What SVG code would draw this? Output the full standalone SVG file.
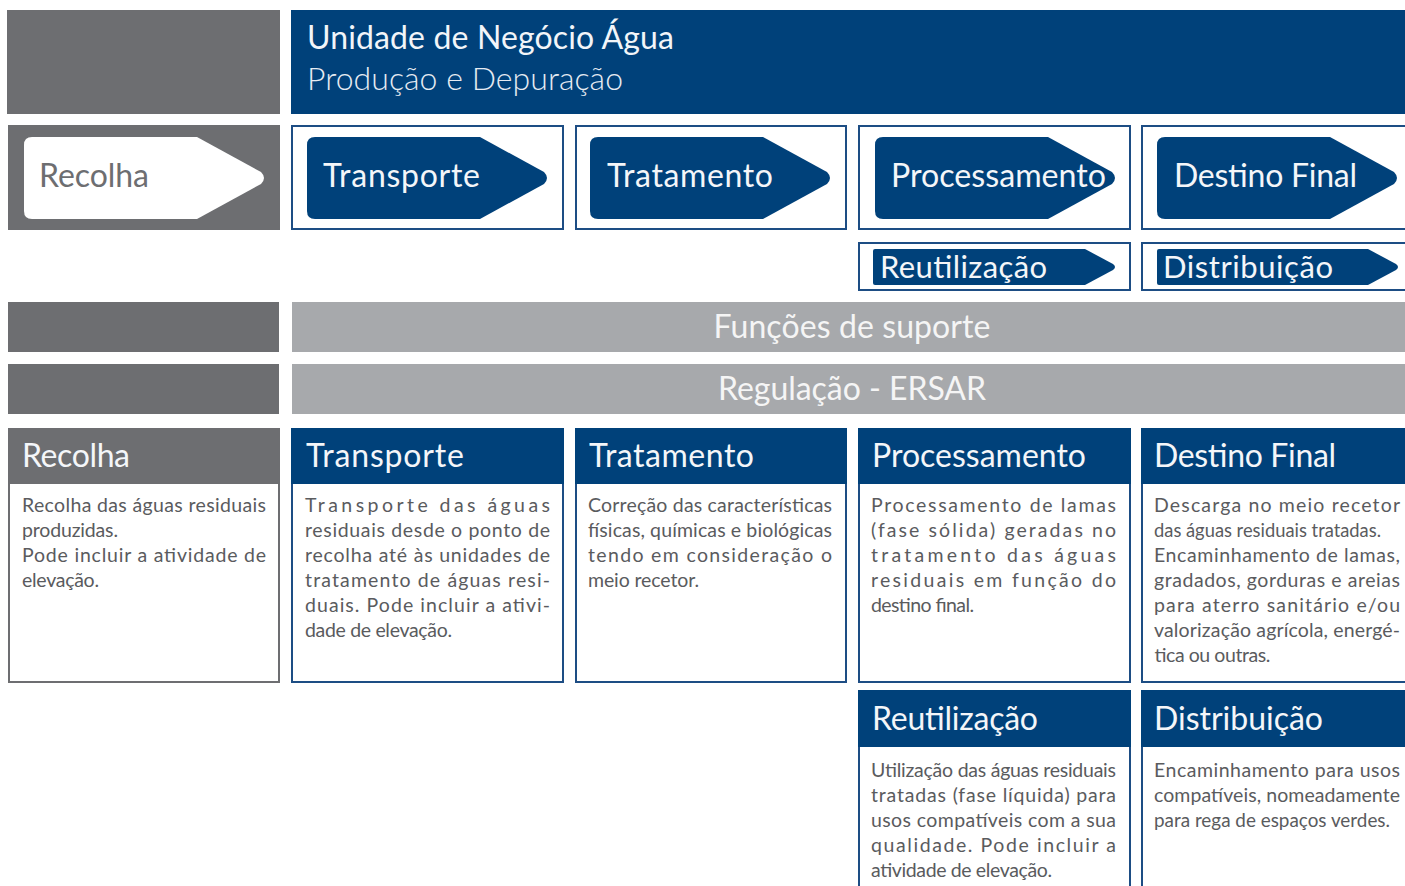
<svg xmlns="http://www.w3.org/2000/svg" width="1405" height="886" viewBox="0 0 1405 886">
<style>
.bg{fill:#ffffff}
.dg{fill:#6d6e71}
.lg{fill:#a7a9ac}
.bl{fill:#00417a}
.frame{fill:#ffffff;stroke:#1d4d84;stroke-width:2}
.gframe{fill:#ffffff;stroke:#6d6e71;stroke-width:2}
.t{font-family:Lato,"Open Sans","Liberation Sans",sans-serif}
.title{font-size:32px;fill:#f2f5f9}
.sub{font-size:32px;fill:#e6ebf2;font-weight:300}
.alab{font-size:32px;fill:#f4f6f9}
.glab{font-size:32px;fill:#6d6e71}
.slab{font-size:31px;fill:#f4f6f9}
.bar{font-size:32px;fill:#f5f5f5;text-anchor:middle}
.hd{font-size:32px;fill:#f4f6f9}
.body{font-size:19.5px;fill:#5a5b5e}
</style>
<rect class="bg" x="0" y="0" width="1405" height="886"/>

<g id="header">
<rect class="dg" x="7" y="10" width="273" height="104"/>
<rect class="bl" x="291" y="10" width="1114" height="104"/>
<text class="t title" x="307" y="49" textLength="367" lengthAdjust="spacing">Unidade de Negócio Água</text>
<text class="t sub" x="307" y="90" textLength="316" lengthAdjust="spacing">Produção e Depuração</text>
</g>

<g id="flow-recolha">
<rect class="dg" x="8" y="125" width="272" height="105"/>
<path d="M32,137 H197 L261,172 Q267,178 261,184 L197,219 H32 Q24,219 24,211 V145 Q24,137 32,137 Z" fill="#ffffff"/>
<text class="t glab" x="39" y="187" textLength="110" lengthAdjust="spacing">Recolha</text>
</g>

<g id="flow-transporte">
<rect class="frame" x="292" y="126" width="271" height="103"/>
<path d="M315,137 H480 L544,172 Q550,178 544,184 L480,219 H315 Q307,219 307,211 V145 Q307,137 315,137 Z" class="bl"/>
<text class="t alab" x="323" y="187" textLength="157" lengthAdjust="spacing">Transporte</text>
</g>

<g id="flow-tratamento">
<rect class="frame" x="576" y="126" width="270" height="103"/>
<path d="M598,137 H763 L827,172 Q833,178 827,184 L763,219 H598 Q590,219 590,211 V145 Q590,137 598,137 Z" class="bl"/>
<text class="t alab" x="607" y="187" textLength="166" lengthAdjust="spacing">Tratamento</text>
</g>

<g id="flow-processamento">
<rect class="frame" x="859" y="126" width="271" height="103"/>
<path d="M883,137 H1048 L1112,172 Q1118,178 1112,184 L1048,219 H883 Q875,219 875,211 V145 Q875,137 883,137 Z" class="bl"/>
<text class="t alab" x="891" y="187" textLength="215" lengthAdjust="spacingAndGlyphs">Processamento</text>
</g>

<g id="flow-destino">
<rect class="frame" x="1142" y="126" width="270" height="103"/>
<path d="M1165,137 H1330 L1394,172 Q1400,178 1394,184 L1330,219 H1165 Q1157,219 1157,211 V145 Q1157,137 1165,137 Z" class="bl"/>
<text class="t alab" x="1174" y="187" textLength="183" lengthAdjust="spacing">Destino Final</text>
</g>

<g id="flow-reutilizacao">
<rect class="frame" x="859" y="243" width="271" height="47"/>
<path d="M875,249 H1085 L1113,264 Q1117,267 1113,270 L1085,285 H875 Q873,285 873,283 V251 Q873,249 875,249 Z" class="bl"/>
<text class="t slab" x="880" y="278" textLength="167" lengthAdjust="spacing">Reutilização</text>
</g>

<g id="flow-distribuicao">
<rect class="frame" x="1142" y="243" width="270" height="47"/>
<path d="M1159,249 H1368 L1396,264 Q1400,267 1396,270 L1368,285 H1159 Q1157,285 1157,283 V251 Q1157,249 1159,249 Z" class="bl"/>
<text class="t slab" x="1163" y="278" textLength="170" lengthAdjust="spacing">Distribuição</text>
</g>

<g id="funcoes-suporte">
<rect class="dg" x="8" y="302" width="271" height="50"/>
<rect class="lg" x="292" y="302" width="1113" height="50"/>
<text class="t bar" x="852" y="338" textLength="277" lengthAdjust="spacing">Funções de suporte</text>
</g>

<g id="regulacao">
<rect class="dg" x="8" y="364" width="271" height="50"/>
<rect class="lg" x="292" y="364" width="1113" height="50"/>
<text class="t bar" x="852" y="400" textLength="268" lengthAdjust="spacing">Regulação - ERSAR</text>
</g>

<g id="card-recolha">
<rect class="gframe" x="9" y="429" width="270" height="253"/>
<rect class="dg" x="8" y="428" width="272" height="56"/>
<text class="t hd" x="22" y="467" textLength="108" lengthAdjust="spacing">Recolha</text>
<text class="t body" x="22" y="512" textLength="244" lengthAdjust="spacing">Recolha das águas residuais</text>
<text class="t body" x="22" y="537" textLength="96" lengthAdjust="spacing">produzidas.</text>
<text class="t body" x="22" y="562" textLength="244" lengthAdjust="spacing">Pode incluir a atividade de</text>
<text class="t body" x="22" y="587" textLength="77" lengthAdjust="spacing">elevação.</text>
</g>

<g id="card-transporte">
<rect class="frame" x="292" y="429" width="271" height="253"/>
<rect class="bl" x="291" y="428" width="273" height="56"/>
<text class="t hd" x="306" y="467" textLength="158" lengthAdjust="spacing">Transporte</text>
<text class="t body" x="305" y="512" textLength="245" lengthAdjust="spacing">Transporte das águas</text>
<text class="t body" x="305" y="537" textLength="245" lengthAdjust="spacing">residuais desde o ponto de</text>
<text class="t body" x="305" y="562" textLength="245" lengthAdjust="spacing">recolha até às unidades de</text>
<text class="t body" x="305" y="587" textLength="245" lengthAdjust="spacing">tratamento de águas resi-</text>
<text class="t body" x="305" y="612" textLength="245" lengthAdjust="spacing">duais. Pode incluir a ativi-</text>
<text class="t body" x="305" y="637" textLength="147" lengthAdjust="spacing">dade de elevação.</text>
</g>

<g id="card-tratamento">
<rect class="frame" x="576" y="429" width="270" height="253"/>
<rect class="bl" x="575" y="428" width="272" height="56"/>
<text class="t hd" x="589" y="467" textLength="165" lengthAdjust="spacing">Tratamento</text>
<text class="t body" x="588" y="512" textLength="244" lengthAdjust="spacing">Correção das características</text>
<text class="t body" x="588" y="537" textLength="244" lengthAdjust="spacing">físicas, químicas e biológicas</text>
<text class="t body" x="588" y="562" textLength="244" lengthAdjust="spacing">tendo em consideração o</text>
<text class="t body" x="588" y="587" textLength="111" lengthAdjust="spacing">meio recetor.</text>
</g>

<g id="card-processamento">
<rect class="frame" x="859" y="429" width="271" height="253"/>
<rect class="bl" x="858" y="428" width="273" height="56"/>
<text class="t hd" x="872" y="467" textLength="214" lengthAdjust="spacing">Processamento</text>
<text class="t body" x="871" y="512" textLength="245" lengthAdjust="spacing">Processamento de lamas</text>
<text class="t body" x="871" y="537" textLength="245" lengthAdjust="spacing">(fase sólida) geradas no</text>
<text class="t body" x="871" y="562" textLength="245" lengthAdjust="spacing">tratamento das águas</text>
<text class="t body" x="871" y="587" textLength="245" lengthAdjust="spacing">residuais em função do</text>
<text class="t body" x="871" y="612" textLength="103" lengthAdjust="spacing">destino final.</text>
</g>

<g id="card-destino">
<rect class="frame" x="1142" y="429" width="270" height="253"/>
<rect class="bl" x="1141" y="428" width="264" height="56"/>
<text class="t hd" x="1154" y="467" textLength="182" lengthAdjust="spacing">Destino Final</text>
<text class="t body" x="1154" y="512" textLength="246" lengthAdjust="spacing">Descarga no meio recetor</text>
<text class="t body" x="1154" y="537" textLength="227" lengthAdjust="spacingAndGlyphs">das águas residuais tratadas.</text>
<text class="t body" x="1154" y="562" textLength="246" lengthAdjust="spacing">Encaminhamento de lamas,</text>
<text class="t body" x="1154" y="587" textLength="246" lengthAdjust="spacing">gradados, gorduras e areias</text>
<text class="t body" x="1154" y="612" textLength="246" lengthAdjust="spacing">para aterro sanitário e/ou</text>
<text class="t body" x="1154" y="637" textLength="246" lengthAdjust="spacing">valorização agrícola, energé-</text>
<text class="t body" x="1154" y="662" textLength="116" lengthAdjust="spacing">tica ou outras.</text>
</g>

<g id="card-reutilizacao">
<rect class="frame" x="859" y="691" width="271" height="210"/>
<rect class="bl" x="858" y="690" width="273" height="57"/>
<text class="t hd" x="872" y="730" textLength="166" lengthAdjust="spacing">Reutilização</text>
<text class="t body" x="871" y="777" textLength="245" lengthAdjust="spacing">Utilização das águas residuais</text>
<text class="t body" x="871" y="802" textLength="245" lengthAdjust="spacing">tratadas (fase líquida) para</text>
<text class="t body" x="871" y="827" textLength="245" lengthAdjust="spacing">usos compatíveis com a sua</text>
<text class="t body" x="871" y="852" textLength="245" lengthAdjust="spacing">qualidade. Pode incluir a</text>
<text class="t body" x="871" y="877" textLength="181" lengthAdjust="spacing">atividade de elevação.</text>
</g>

<g id="card-distribuicao">
<rect class="frame" x="1142" y="691" width="270" height="210"/>
<rect class="bl" x="1141" y="690" width="264" height="57"/>
<text class="t hd" x="1154" y="730" textLength="169" lengthAdjust="spacing">Distribuição</text>
<text class="t body" x="1154" y="777" textLength="246" lengthAdjust="spacing">Encaminhamento para usos</text>
<text class="t body" x="1154" y="802" textLength="246" lengthAdjust="spacing">compatíveis, nomeadamente</text>
<text class="t body" x="1154" y="827" textLength="236" lengthAdjust="spacingAndGlyphs">para rega de espaços verdes.</text>
</g>

<g id="connectors"/>
</svg>
